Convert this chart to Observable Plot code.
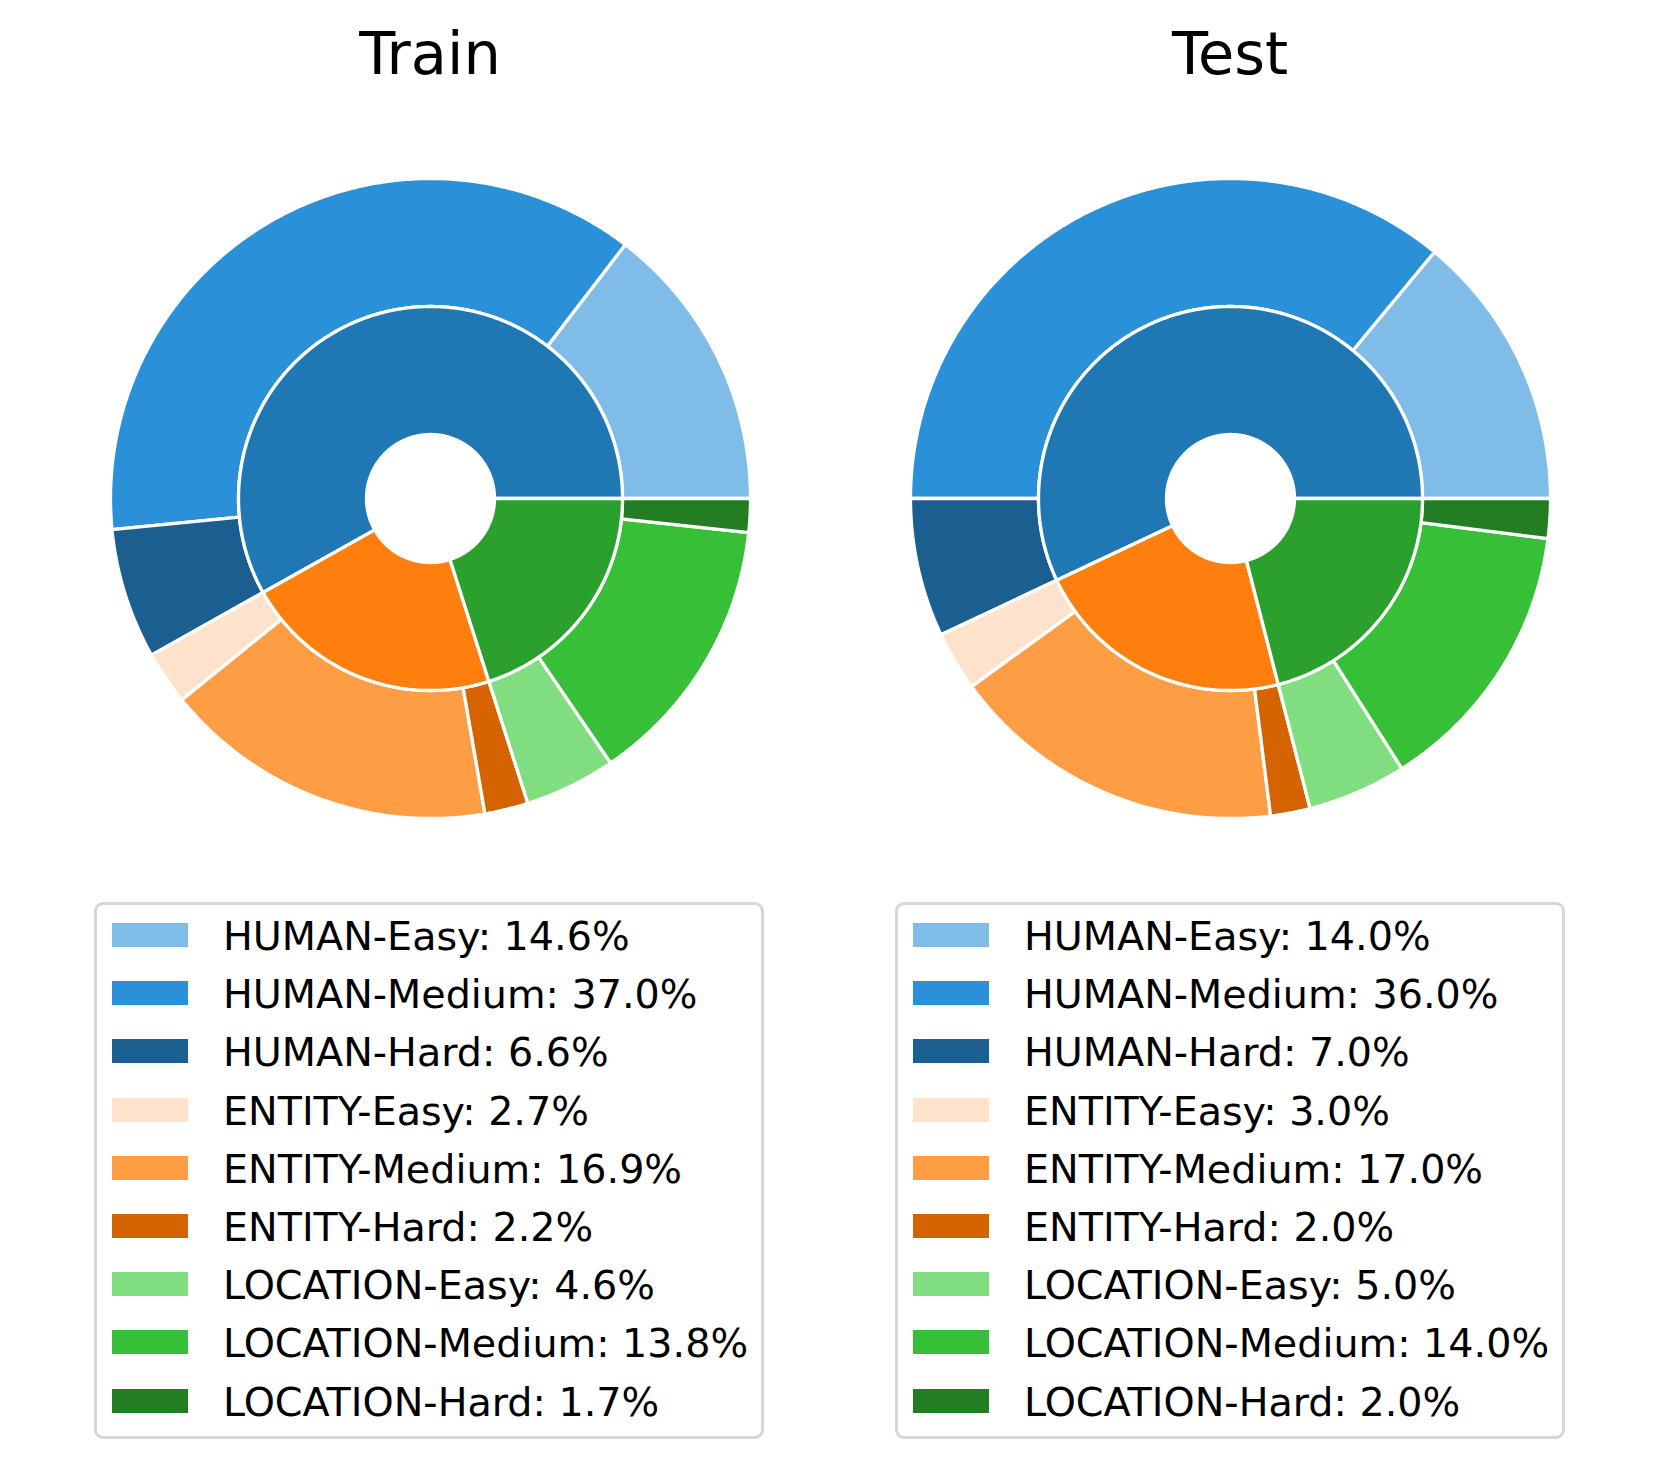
<!DOCTYPE html>
<html>
<head>
<meta charset="utf-8">
<script src="https://cdn.jsdelivr.net/npm/d3@7"></script>
<script src="https://cdn.jsdelivr.net/npm/@observablehq/plot@0.6"></script>
<style>
  html, body { margin: 0; padding: 0; background: #fff; }
  #page { position: relative; width: 1659px; height: 1468px; background: #fff; font-family: "DejaVu Sans", sans-serif; overflow: hidden; }
  .title { position: absolute; width: 400px; text-align: center; font-size: 59px; line-height: 59px; color: #000; }
  .pie { position: absolute; }
  .legend { position: absolute; box-sizing: border-box; border: 3px solid #d6d6d6; border-radius: 9px; background: #fff; }
  .sw { position: absolute; width: 76px; height: 24px; }
  .lt { position: absolute; font-size: 39.65px; line-height: 40px; color: #000; white-space: nowrap; }
</style>
</head>
<body>
<div id="page"></div>
<script>
// ---- data ----
const panels = ["Train", "Test"];
const groups = ["HUMAN", "ENTITY", "LOCATION"];
const levels = ["Easy", "Medium", "Hard"];
const labels = ["HUMAN-Easy", "HUMAN-Medium", "HUMAN-Hard",
                "ENTITY-Easy", "ENTITY-Medium", "ENTITY-Hard",
                "LOCATION-Easy", "LOCATION-Medium", "LOCATION-Hard"];
const trainValues = [14.6, 37.0, 6.6, 2.7, 16.9, 2.2, 4.6, 13.8, 1.7];
const testValues  = [14.0, 36.0, 7.0, 3.0, 17.0, 2.0, 5.0, 14.0, 2.0];
const outerColors = ["#80bce8", "#2a90d8", "#1b5e90",
                     "#ffe2cc", "#ff9d45", "#d46300",
                     "#80dd80", "#38bf38", "#237e23"];
const innerColors = ["#1f77b4", "#ff7f0e", "#2ca02c"];

// ---- geometry helpers (angles from data, matplotlib style: start at 0°, counter-clockwise) ----
function ringPoints(keys, values, r0, r1, prefix) {
  const total = d3.sum(values);
  const pts = [];
  let acc = 0;
  keys.forEach((k, i) => {
    const a0 = acc / total * 2 * Math.PI;
    acc += values[i];
    const a1 = acc / total * 2 * Math.PI;
    const n = Math.max(2, Math.ceil((a1 - a0) / (Math.PI / 360)));
    const key = prefix + k;
    for (let j = 0; j <= n; j++) {
      const a = a0 + (a1 - a0) * j / n;
      pts.push({key, x: r1 * Math.cos(a), y: r1 * Math.sin(a)});
    }
    for (let j = n; j >= 0; j--) {
      const a = a0 + (a1 - a0) * j / n;
      pts.push({key, x: r0 * Math.cos(a), y: r0 * Math.sin(a)});
    }
  });
  return pts;
}

const page = document.getElementById("page");
const layout = [
  {values: trainValues, cx: 430, legendLeft: 94},
  {values: testValues, cx: 1230, legendLeft: 895}
];
const cy = 498;
const pxPerUnit = 320;
const S = 660;
const D = (S / 2) / pxPerUnit;

panels.forEach((name, p) => {
  const {values, cx, legendLeft} = layout[p];
  const groupValues = groups.map((g, gi) => d3.sum(values.slice(gi * 3, gi * 3 + 3)));

  // title
  const t = document.createElement("div");
  t.className = "title";
  t.textContent = name;
  t.style.left = (cx - 200) + "px";
  t.style.top = "24px";
  page.appendChild(t);

  // pie
  const outer = ringPoints(labels, values, 0.6, 1.0, "o:");
  const inner = ringPoints(groups, groupValues, 0.2, 0.6, "i:");
  const colorDomain = labels.map(l => "o:" + l).concat(groups.map(g => "i:" + g));
  const colorRange = outerColors.concat(innerColors);
  const chart = Plot.plot({
    width: S, height: S, margin: 0,
    x: {domain: [-D, D], axis: null},
    y: {domain: [-D, D], axis: null},
    color: {domain: colorDomain, range: colorRange},
    marks: [
      Plot.line(outer, {x: "x", y: "y", z: "key", fill: "key", stroke: "white", strokeWidth: 3.3, strokeLinejoin: "miter", curve: "linear-closed"}),
      Plot.line(inner, {x: "x", y: "y", z: "key", fill: "key", stroke: "white", strokeWidth: 3.3, strokeLinejoin: "miter", curve: "linear-closed"})
    ]
  });
  chart.classList.add("pie");
  chart.style.left = (cx - S / 2) + "px";
  chart.style.top = (cy - S / 2) + "px";
  page.appendChild(chart);

  // legend
  const box = document.createElement("div");
  box.className = "legend";
  box.style.left = legendLeft + "px";
  box.style.top = "902px";
  box.style.width = "670px";
  box.style.height = "537px";
  page.appendChild(box);
  labels.forEach((l, i) => {
    const sw = document.createElement("div");
    sw.className = "sw";
    sw.style.background = outerColors[i];
    sw.style.left = (legendLeft + 18) + "px";
    sw.style.top = (923 + i * 58.2) + "px";
    page.appendChild(sw);
    const tx = document.createElement("div");
    tx.className = "lt";
    tx.textContent = `${l}: ${values[i].toFixed(1)}%`;
    tx.style.left = (legendLeft + 129) + "px";
    tx.style.top = (916 + i * 58.2) + "px";
    page.appendChild(tx);
  });
});
</script>
</body>
</html>
